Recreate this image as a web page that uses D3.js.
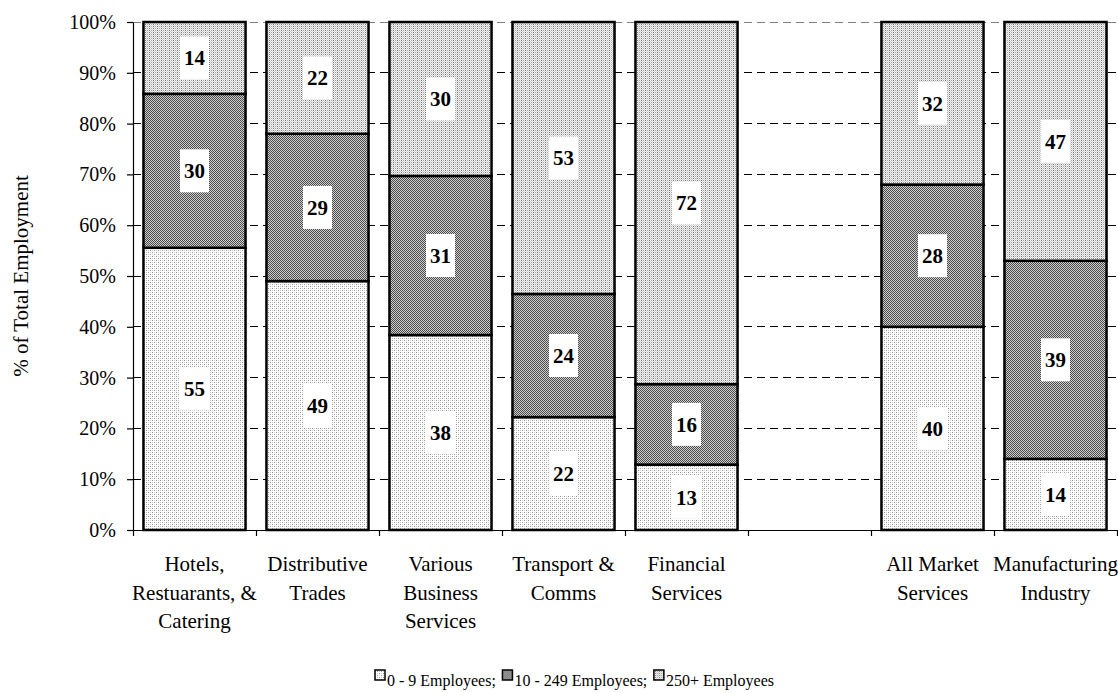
<!DOCTYPE html>
<html>
<head>
<meta charset="utf-8">
<script src="https://cdn.jsdelivr.net/npm/d3@7"></script>
<style>
  html, body { margin: 0; padding: 0; background: #fff; }
  svg { display: block; font-family: "Liberation Serif", "Times New Roman", serif; }
</style>
</head>
<body>
<svg id="chart" width="1118" height="693"></svg>
<script>
// ---- data ----
const categories = [
  ["Hotels,", "Restuarants, &", "Catering"],
  ["Distributive", "Trades"],
  ["Various", "Business", "Services"],
  ["Transport &", "Comms"],
  ["Financial", "Services"],
  [],
  ["All Market", "Services"],
  ["Manufacturing", "Industry"]
];
const seriesNames = ["0 - 9 Employees;", "10 - 249 Employees;", "250+ Employees"];
const small  = [55, 49, 38, 22, 13, null, 40, 14];
const medium = [30, 29, 31, 24, 16, null, 28, 39];
const large  = [14, 22, 30, 53, 72, null, 32, 47];
const yTicks = [0, 10, 20, 30, 40, 50, 60, 70, 80, 90, 100];

// ---- layout ----
const svg = d3.select("#chart");
const pL = 133, pR = 1117, pT = 22, pB = 530;

const defs = svg.append("defs");
function pattern(id, w, h, bg, pts) {
  const p = defs.append("pattern").attr("id", id).attr("patternUnits", "userSpaceOnUse")
    .attr("width", w).attr("height", h);
  p.append("rect").attr("width", w).attr("height", h).attr("fill", bg).attr("shape-rendering", "crispEdges");
  pts.forEach(([px, py, c]) => p.append("rect").attr("x", px).attr("y", py).attr("width", 1).attr("height", 1)
    .attr("fill", c).attr("shape-rendering", "crispEdges"));
}
pattern("p0", 4, 4, "#ffffff", [[0,0,"#9a9a9a"],[2,0,"#d0d0d0"],[0,2,"#d0d0d0"],[2,2,"#9a9a9a"]]);
pattern("p1", 2, 2, "#cfcfcf", [[0,0,"#4a4a4a"],[1,1,"#4a4a4a"]]);
pattern("p2", 4, 2, "#f2f2f2", [[1,0,"#7a7a7a"],[0,1,"#d0d0d0"],[2,1,"#d0d0d0"],[3,0,"#a8a8a8"]]);
const fills = ["url(#p0)", "url(#p1)", "url(#p2)"];

const idx = d3.range(categories.length);
const x = d3.scaleBand().domain(idx).range([pL, pR]).paddingInner(0.17).paddingOuter(0.085);
const xb = d3.scaleLinear().domain([0, categories.length]).range([pL, pR]);
const y = d3.scaleLinear().domain([0, 100]).range([pB, pT]);

// gridlines
svg.append("g").selectAll("line").data(yTicks.filter(d => d > 0)).join("line")
  .attr("x1", pL).attr("x2", pR)
  .attr("y1", d => y(d)).attr("y2", d => y(d))
  .attr("stroke", d => d === 100 ? "#808080" : "#000")
  .attr("stroke-width", 1)
  .attr("stroke-dasharray", "8,5")
  .attr("shape-rendering", "crispEdges");

// stacked data (each bar normalised to 100%)
const rows = idx.filter(i => small[i] != null).map(i => {
  const vals = [small[i], medium[i], large[i]];
  const tot = d3.sum(vals);
  let acc = 0;
  return vals.map((v, s) => {
    const y0 = acc; acc += v / tot * 100;
    return { i, s, v, y0, y1: acc };
  });
}).flat();

const bars = svg.append("g");
bars.selectAll("rect").data(rows).join("rect")
  .attr("x", d => x(d.i)).attr("width", x.bandwidth())
  .attr("y", d => y(d.y1)).attr("height", d => y(d.y0) - y(d.y1))
  .attr("fill", d => fills[d.s])
  .attr("stroke", "#000").attr("stroke-width", 2.5);

// value labels
const lab = svg.append("g");
const lg = lab.selectAll("g").data(rows).join("g")
  .attr("transform", d => `translate(${x(d.i) + x.bandwidth() / 2},${(y(d.y0) + y(d.y1)) / 2})`);
lg.append("rect").attr("x", -14.5).attr("y", -21.5).attr("width", 29).attr("height", 43).attr("fill", "#fff");
lg.append("text").attr("text-anchor", "middle").attr("dy", "0.35em")
  .attr("font-size", 21).attr("font-weight", "bold").text(d => d.v);

// y axis
const ya = svg.append("g").attr("transform", `translate(${pL},0)`)
  .call(d3.axisLeft(y).tickValues(yTicks).tickFormat(d => d + "%").tickSize(6).tickPadding(11).tickSizeOuter(0));
ya.selectAll("text").attr("font-size", 20).attr("font-family", "Liberation Serif").attr("fill", "#000");
ya.selectAll("line, path").attr("stroke", "#000").attr("stroke-width", 1.2);

// x axis (slot boundaries)
const xa = svg.append("g").attr("transform", `translate(0,${pB})`)
  .call(d3.axisBottom(xb).tickValues(d3.range(0, categories.length + 1)).tickFormat("").tickSize(6).tickSizeOuter(0));
xa.selectAll("line, path").attr("stroke", "#000").attr("stroke-width", 1.2);

// category labels
const cl = svg.append("g").selectAll("text").data(idx).join("text")
  .attr("x", i => x(i) + x.bandwidth() / 2).attr("y", 571)
  .attr("text-anchor", "middle").attr("font-size", 21);
cl.selectAll("tspan").data(i => categories[i]).join("tspan")
  .attr("x", function () { return d3.select(this.parentNode).attr("x"); })
  .attr("dy", (d, k) => k === 0 ? 0 : 28.5)
  .text(d => d);

// y title
svg.append("text").attr("transform", `translate(21,${(pT + pB) / 2}) rotate(-90)`)
  .attr("text-anchor", "middle").attr("dy", "0.35em").attr("font-size", 21)
  .text("% of Total Employment");

// legend (laid out from measured text widths between fixed ends)
const legStart = 375, legEnd = 774;
const legG = svg.append("g").attr("transform", "translate(0,681)");
const leg = legG.selectAll("g").data(seriesNames).join("g");
leg.append("rect").attr("x", 0).attr("y", -11).attr("width", 10).attr("height", 10)
  .attr("fill", (d, k) => fills[k]).attr("stroke", "#000").attr("stroke-width", 1.5);
leg.append("text").attr("x", 12).attr("y", 5).attr("font-size", 16).text(d => d);
const widths = leg.select("text").nodes().map(n => n.getComputedTextLength() + 12);
const gap = Math.max(6, (legEnd - legStart - d3.sum(widths)) / (widths.length - 1));
let cx = legStart;
leg.attr("transform", (d, k) => { const t = `translate(${cx},0)`; cx += widths[k] + gap; return t; });
</script>
</body>
</html>
